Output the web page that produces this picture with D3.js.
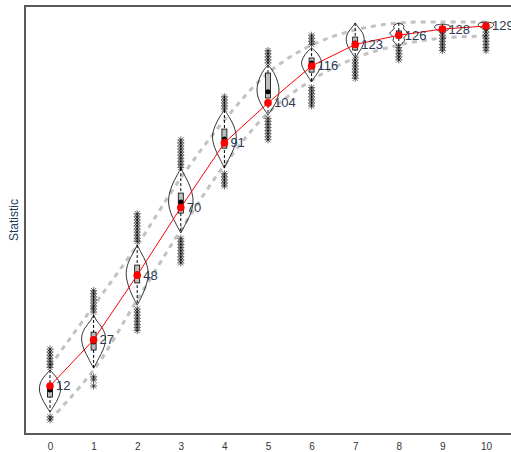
<!DOCTYPE html>
<html>
<head>
<meta charset="utf-8">
<script src="https://cdn.jsdelivr.net/npm/d3@7/dist/d3.min.js"></script>
<style>
  html, body { margin: 0; padding: 0; background: #fff; }
  svg { display: block; }
</style>
</head>
<body>
<svg id="chart" width="511" height="452"></svg>
<script>
// Time points on the x axis
const steps = [0, 1, 2, 3, 4, 5, 6, 7, 8, 9, 10];
const tickLabels = ["0", "1", "2", "3", "4", "5", "6", "7", "8", "9", "10"];

// Per-step summary statistics
const means   = [12, 27, 48, 70, 91, 104, 116, 123, 126, 128, 129];
const medians = [10.7, 26.3, 48.5, 71.8, 92.3, 107.6, 117, 123.5, 126.4, 128.2, 129.1];
const q1s     = [8.4, 23.7, 45.5, 68.2, 89.3, 105.6, 114, 121.2, 125.1, 127.6, 128.6];
const q3s     = [12.3, 29.5, 51.3, 74.7, 95.5, 113.7, 118.6, 125.4, 127.4, 128.8, 129.6];

// Smoothed envelope around the mean
const upperBand = [18.5, 38, 57.8, 79.6, 98.4, 113.7, 122.8, 127.7, 130, 130.3, 130.3];
const lowerBand = [1, 17.2, 40, 62.7, 83.8, 100.7, 111.4, 118.6, 122.8, 125.1, 125.7];

// Kernel density profiles: [value, relative density]
const densities = [
  [[17.2,0],[15.8,0.3],[13.8,0.68],[11,0.85],[8.3,0.68],[5.8,0.35],[3.5,0]],
  [[35.1,0],[33.2,0.25],[30.8,0.7],[28,0.95],[24.8,0.85],[21.3,0.45],[17.8,0]],
  [[57.8,0],[55.3,0.32],[52,0.72],[48.5,0.88],[44.8,0.72],[41.3,0.38],[38.3,0]],
  [[82.8,0],[80.5,0.3],[77,0.72],[72.5,0.98],[68.5,0.82],[65,0.42],[61.7,0]],
  [[101.7,0],[99.6,0.35],[96.5,0.75],[93,0.95],[89.5,0.78],[86,0.38],[82.8,0]],
  [[116.3,0],[114.6,0.35],[111.5,0.72],[108.2,0.88],[105,0.72],[102.4,0.38],[100.1,0]],
  [[121.8,0],[120.6,0.35],[118.8,0.66],[117,0.8],[115,0.66],[113,0.35],[110.8,0]],
  [[130,0],[128.7,0.22],[126.8,0.58],[124.6,0.72],[122.5,0.6],[120.5,0.3],[118.6,0]],
  [[130,0],[129.1,0.4],[128.1,0.38],[126.7,0.72],[125.3,0.42],[124.2,0.45],[122.5,0]],
  [[129.6,0],[129.2,0.55],[128.6,0.62],[127.8,0.45],[127.2,0.2],[126.4,0]],
  [[130.3,0],[129.9,0.55],[129.3,0.62],[128.6,0.45],[128,0.15],[127.4,0]]
];

// Observations beyond the whiskers
const highPoints = [
  [18, 19, 20, 21, 22, 23, 24],
  [36, 37, 38, 39, 40, 41, 42, 43],
  [59, 60, 61, 62, 63, 64, 65, 66, 67, 68],
  [83, 84, 85, 86, 87, 88, 89, 90, 91, 92],
  [102, 103, 104, 105, 106],
  [117, 118, 119, 120, 121],
  [123, 124, 125, 126],
  [],
  [],
  [],
  []
];
const lowPoints = [
  [2, 1],
  [15, 14, 12],
  [30, 31, 32, 33, 34, 35, 36, 37],
  [52, 53, 54, 55, 56, 57, 58, 59, 60],
  [77, 78, 79, 80, 81],
  [92, 93, 94, 95, 96, 97, 98, 99],
  [103, 104, 105, 106, 107, 108, 109],
  [112, 113, 114, 115, 116, 117, 118],
  [118, 119, 120, 121, 122],
  [121, 122, 123, 124, 125, 126, 127],
  [121, 122, 123, 124, 125, 126, 127, 128]
];

const svg = d3.select("#chart");
const plot = { left: 25, top: 6, right: 540, bottom: 434 };

const x = d3.scaleLinear().domain([0, 10]).range([50, 486]);
const y = d3.scaleLinear().domain([-3.6, 135.5]).range([plot.bottom, plot.top]);
const dens = d3.scaleLinear().domain([0, 1]).range([0, 12.5]);

// Clip everything to the panel
svg.append("defs").append("clipPath").attr("id", "panel")
  .append("rect")
  .attr("x", plot.left).attr("y", plot.top)
  .attr("width", plot.right - plot.left).attr("height", plot.bottom - plot.top);

const g = svg.append("g").attr("clip-path", "url(#panel)");

// Envelope curves
const bandLine = d3.line()
  .x((d, i) => x(steps[i]))
  .y(d => y(d))
  .curve(d3.curveCatmullRom);

[upperBand, lowerBand].forEach(band => {
  g.append("path")
    .attr("d", bandLine(band))
    .attr("fill", "none")
    .attr("stroke", "#c2c2c2")
    .attr("stroke-width", 3)
    .attr("stroke-dasharray", "5,5");
});

// Violins
const violinArea = d3.area()
  .y(d => y(d[0]))
  .curve(d3.curveCatmullRom);

steps.forEach((s, i) => {
  const cx = x(s);
  g.append("path")
    .attr("d", violinArea
      .x0(d => cx - dens(d[1]))
      .x1(d => cx + dens(d[1]))(densities[i]))
    .attr("fill", "none")
    .attr("stroke", "#000")
    .attr("stroke-width", 0.8);
});

// Whiskers spanning each violin
steps.forEach((s, i) => {
  const ext = d3.extent(densities[i], d => d[0]);
  g.append("line")
    .attr("x1", x(s)).attr("x2", x(s))
    .attr("y1", y(ext[1])).attr("y2", y(ext[0]))
    .attr("stroke", "#000")
    .attr("stroke-width", 1)
    .attr("stroke-dasharray", "3,2");
});

// Asterisk markers for the outer observations
const star = 3.5;
function asterisk(sel) {
  sel.append("line").attr("x1", -star).attr("x2", star).attr("y1", 0).attr("y2", 0);
  sel.append("line").attr("x1", 0).attr("x2", 0).attr("y1", -star).attr("y2", star);
  sel.append("line").attr("x1", -star * 0.75).attr("x2", star * 0.75).attr("y1", -star * 0.75).attr("y2", star * 0.75);
  sel.append("line").attr("x1", -star * 0.75).attr("x2", star * 0.75).attr("y1", star * 0.75).attr("y2", -star * 0.75);
}
steps.forEach((s, i) => {
  const pts = highPoints[i].concat(lowPoints[i]);
  g.selectAll(null)
    .data(pts)
    .enter().append("g")
    .attr("transform", d => `translate(${x(s)},${y(d)})`)
    .attr("stroke", "#000")
    .attr("stroke-width", 0.6)
    .each(function () { asterisk(d3.select(this)); });
});

// Interquartile boxes
g.selectAll(".box")
  .data(steps)
  .enter().append("rect")
  .attr("x", d => x(d) - 2.5)
  .attr("width", 5)
  .attr("y", (d, i) => y(q3s[i]))
  .attr("height", (d, i) => y(q1s[i]) - y(q3s[i]))
  .attr("fill", "#bebebe")
  .attr("stroke", "#000")
  .attr("stroke-width", 0.8);

// Mean trajectory
g.append("path")
  .attr("d", d3.line().x((d, i) => x(steps[i])).y(d => y(d))(means))
  .attr("fill", "none")
  .attr("stroke", "#ff0000")
  .attr("stroke-width", 1);

// Medians
g.selectAll(".med")
  .data(medians)
  .enter().append("circle")
  .attr("cx", (d, i) => x(steps[i]))
  .attr("cy", d => y(d))
  .attr("r", 2.5)
  .attr("fill", "#000");

// Means
g.selectAll(".mean")
  .data(means)
  .enter().append("circle")
  .attr("cx", (d, i) => x(steps[i]))
  .attr("cy", d => y(d))
  .attr("r", 3.8)
  .attr("fill", "#ff0000");

// Mean labels
svg.selectAll(".lbl")
  .data(means)
  .enter().append("text")
  .attr("x", (d, i) => x(steps[i]) + 6)
  .attr("y", d => y(d) + 1)
  .attr("dominant-baseline", "middle")
  .attr("font-family", "Liberation Sans, Arial, sans-serif")
  .attr("font-size", 13)
  .attr("fill", "#2c3a52")
  .text(d => d);

// Panel frame
svg.append("rect")
  .attr("x", plot.left).attr("y", plot.top)
  .attr("width", plot.right - plot.left).attr("height", plot.bottom - plot.top)
  .attr("fill", "none")
  .attr("stroke", "#5a5a5a")
  .attr("stroke-width", 2);

// X axis labels
const xAxis = d3.axisBottom(x)
  .tickValues(steps)
  .tickFormat((d, i) => tickLabels[i])
  .tickSize(0)
  .tickPadding(9);
const ax = svg.append("g")
  .attr("transform", `translate(0,${plot.bottom})`)
  .call(xAxis);
ax.select(".domain").remove();
ax.selectAll("text")
  .attr("font-family", "Liberation Sans, Arial, sans-serif")
  .attr("font-size", 10)
  .attr("fill", "#333");

// Y axis title
svg.append("text")
  .attr("transform", `translate(18,${(plot.top + plot.bottom) / 2}) rotate(-90)`)
  .attr("text-anchor", "middle")
  .attr("font-family", "Liberation Sans, Arial, sans-serif")
  .attr("font-size", 12)
  .attr("fill", "#1f3a5a")
  .text("Statistic");
</script>
</body>
</html>
